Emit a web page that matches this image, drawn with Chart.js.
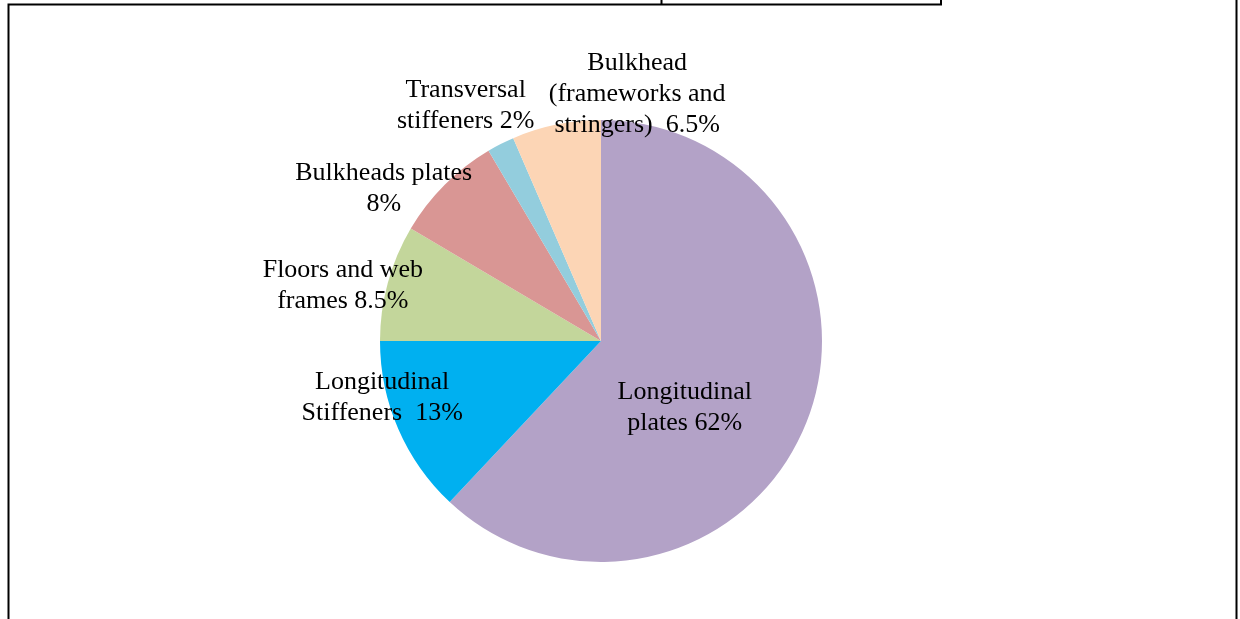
<!DOCTYPE html>
<html>
<head>
<meta charset="utf-8">
<title>Hull structure weight breakdown</title>
<script src="https://cdn.jsdelivr.net/npm/chart.js@4/dist/chart.umd.min.js"></script>
<style>
  html, body { margin: 0; padding: 0; background: #ffffff; }
  #wrap { position: relative; width: 1240px; height: 619px; }
</style>
</head>
<body>
<div id="wrap"><canvas id="chart" width="1240" height="619"></canvas></div>
<script>
// structural groups, clockwise from 12 o'clock
var categories = [
  'Longitudinal plates',
  'Longitudinal Stiffeners',
  'Floors and web frames',
  'Bulkheads plates',
  'Transversal stiffeners',
  'Bulkhead (frameworks and stringers)'
];
// share of total weight, %
var shares = [62, 13, 8.5, 8, 2, 6.5];
// data label text, the value gets appended to the last line
var labelLines = [
  ['Longitudinal', 'plates '],
  ['Longitudinal', 'Stiffeners  '],
  ['Floors and web', 'frames '],
  ['Bulkheads plates', ''],
  ['Transversal', 'stiffeners '],
  ['Bulkhead', '(frameworks and', 'stringers)  ']
];
var sliceColors = ['#B3A2C7', '#00B0F0', '#C3D69B', '#D99694', '#93CDDD', '#FCD5B5'];

// label placement: fraction of radius along the mid angle, then a pixel nudge
var labelRadius = [0.5, 1.0, 1.0, 1.0, 1.0, 1.0];
var labelNudge = [[-19, 26], [-16, -31], [-45, 3], [-61, 4], [-35, -38], [81, -30]];

var dataLabels = {
  id: 'dataLabels',
  afterDatasetsDraw: function(chart) {
    var ctx = chart.ctx;
    var arcs = chart.getDatasetMeta(0).data;
    ctx.save();
    ctx.font = '26px "Liberation Serif", "Times New Roman", serif';
    ctx.fillStyle = '#000000';
    ctx.textAlign = 'center';
    ctx.textBaseline = 'middle';
    var lh = 31;
    arcs.forEach(function(arc, i) {
      var mid = (arc.startAngle + arc.endAngle) / 2;
      var r = arc.outerRadius * labelRadius[i];
      var cx = arc.x + Math.cos(mid) * r + labelNudge[i][0];
      var cy = arc.y + Math.sin(mid) * r + labelNudge[i][1];
      var lines = labelLines[i].slice();
      lines[lines.length - 1] = lines[lines.length - 1] + shares[i] + '%';
      var top = cy - (lines.length - 1) * lh / 2;
      lines.forEach(function(t, k) {
        ctx.fillText(t, cx, top + k * lh);
      });
    });
    ctx.restore();
  }
};

// table rules around the figure cell
var frame = {
  id: 'frame',
  beforeDraw: function(chart) {
    var ctx = chart.ctx;
    ctx.save();
    ctx.strokeStyle = '#000000';
    ctx.lineWidth = 2;
    ctx.beginPath();
    ctx.moveTo(8.5, 619); ctx.lineTo(8.5, 4.5); ctx.lineTo(941, 4.5); ctx.lineTo(941, 0);
    ctx.moveTo(661.5, 0); ctx.lineTo(661.5, 4.5);
    ctx.moveTo(1236.5, 0); ctx.lineTo(1236.5, 619);
    ctx.stroke();
    ctx.restore();
  }
};

new Chart(document.getElementById('chart'), {
  type: 'pie',
  data: {
    labels: categories,
    datasets: [{
      data: shares,
      backgroundColor: sliceColors,
      borderWidth: 0
    }]
  },
  options: {
    responsive: false,
    animation: false,
    layout: { padding: { left: 380, right: 418, top: 120, bottom: 57 } },
    plugins: {
      legend: { display: false },
      tooltip: { enabled: false }
    }
  },
  plugins: [frame, dataLabels]
});
</script>
</body>
</html>
